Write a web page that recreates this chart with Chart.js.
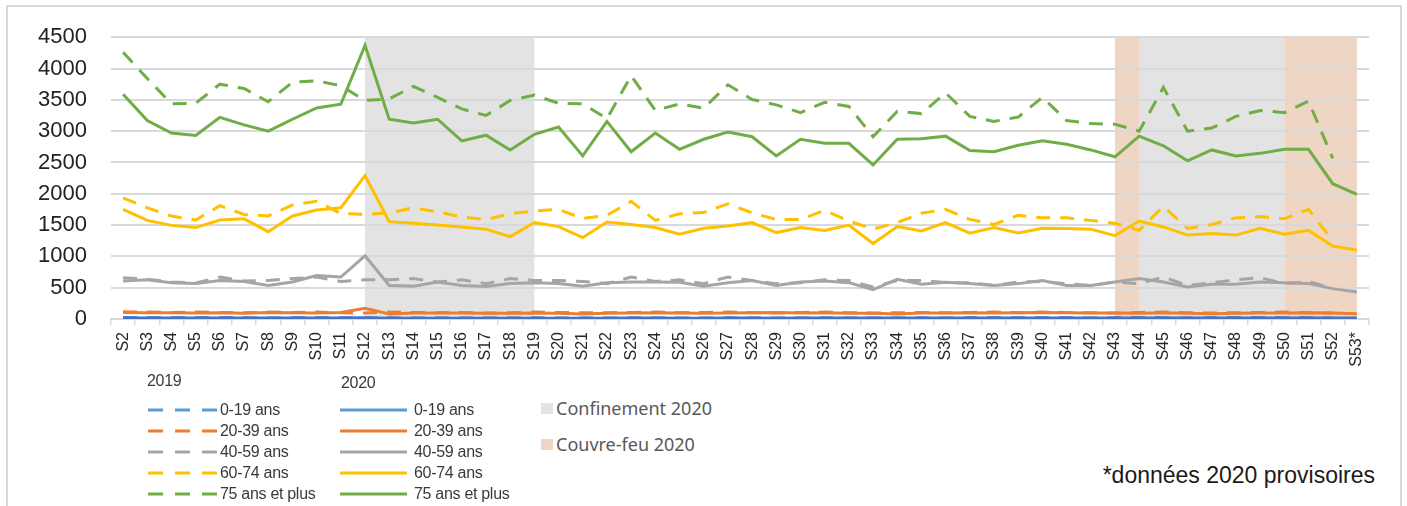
<!DOCTYPE html>
<html lang="fr">
<head>
<meta charset="utf-8">
<title>Décès hebdomadaires par âge 2019 / 2020</title>
<script src="https://cdn.jsdelivr.net/npm/chart.js@4/dist/chart.umd.min.js"></script>
<style>
    html, body { margin: 0; padding: 0; background: #fff; }
    body { width: 1407px; height: 506px; position: relative; overflow: hidden; font-family: 'Liberation Sans', Arial, sans-serif; }
    .frame { position: absolute; left: 6px; top: 5px; width: 1396px; height: 540px; border: 2px solid #dadada; box-sizing: border-box; }
    #chartBox { position: absolute; left: 0; top: 0; width: 1407px; height: 380px; }
    .lg { position: absolute; transform: translateY(-50%); white-space: nowrap; line-height: 1; }
    .lg-txt { font-size: 16px; color: #3a3a3a; letter-spacing: -0.3px; }
    .lg-box { position: absolute; width: 12px; height: 11px; }
    .lg-area { font-family: 'Noto Sans', sans-serif; font-size: 18px; color: #595959; }
    .note { position: absolute; right: 32px; top: 475px; transform: translateY(-50%); font-size: 23px; color: #1a1a1a; line-height: 1; }
</style>
</head>
<body>
<div class="frame"></div>
<div id="chartBox"><canvas id="deathsChart"></canvas></div>
<div id="legend"></div>
<div class="note">*données 2020 provisoires</div>

<script>
// Semaines S2 .. S53*
const weeks = ['S2','S3','S4','S5','S6','S7','S8','S9','S10','S11','S12','S13','S14','S15','S16','S17','S18','S19','S20',
    'S21','S22','S23','S24','S25','S26','S27','S28','S29','S30','S31','S32','S33','S34','S35','S36','S37','S38','S39','S40',
    'S41','S42','S43','S44','S45','S46','S47','S48','S49','S50','S51','S52','S53*'];

const yTicks = [0, 500, 1000, 1500, 2000, 2500, 3000, 3500, 4000, 4500];

// 2020 (trait plein)
const age0_19_2020 = [18,16,15,14,16,15,14,15,16,15, 20,12,12,13,12,12,12,13,13,12, 13,14,14,13,13,14,14,13,14,15,
    15,14,14,15,15,16,15,16,17,16, 16,16,15,16,15,14,15,16,16,17, 16,15];
const age20_39_2020 = [105,100,100,95,100,90,105,100,95,105, 170,80,95,95,95,90,90,95,90,80, 90,95,100,95,90,95,100,105,95,100,
    90,90,80,95,95,100,95,100,105,100, 95,95,90,100,90,85,90,95,95,100, 95,85];
const age40_59_2020 = [605,625,580,565,615,600,535,590,695,670, 1010,535,525,590,535,520,565,580,565,525, 580,590,590,585,525,580,615,535,590,605,
    580,470,635,555,585,565,535,565,615,535, 535,590,645,590,510,555,555,590,580,565, 485,430];
const age60_74_2020 = [1750,1575,1495,1460,1580,1600,1395,1645,1740,1775, 2290,1555,1530,1500,1470,1435,1315,1540,1475,1300,
    1550,1510,1460,1355,1450,1485,1540,1380,1460,1415, 1500,1205,1475,1405,1540,1370,1460,1375,1450,1445,
    1435,1330,1565,1470,1340,1365,1340,1450,1355,1415, 1165,1100];
const age75_2020 = [3590,3170,2970,2930,3220,3100,3000,3190,3370,3430, 4370,3190,3130,3190,2845,2935,2700,2950,3065,2605,
    3155,2670,2970,2710,2870,2985,2910,2605,2870,2805, 2805,2460,2870,2880,2920,2690,2670,2775,2845,2790,
    2700,2590,2920,2765,2525,2700,2605,2645,2710,2710, 2160,1990];

// 2019 (tirets) - pas de S53
const age0_19_2019 = [20,19,18,18,19,18,17,18,19,18, 17,18,17,16,17,16,17,18,17,16, 17,18,17,16,17,18,17,16,17,18,
    17,16,17,18,17,18,19,18,19,18, 17,18,19,18,17,18,19,18,19,18, 17,null];
const age20_39_2019 = [115,110,105,110,105,100,110,105,110,100, 95,110,105,100,105,95,100,110,105,100, 100,105,110,100,105,110,100,95,105,110,
    100,95,100,105,100,105,110,100,110,105, 100,95,105,110,100,95,100,105,110,100, 95,null];
const age40_59_2019 = [660,635,590,575,670,605,615,645,670,600, 625,625,645,590,625,565,645,615,615,600, 565,670,600,625,565,670,615,565,580,625,
    615,510,615,615,580,580,535,590,600,565, 535,590,565,670,535,580,625,660,565,600, 485,null];
const age60_74_2019 = [1935,1775,1645,1580,1810,1670,1645,1820,1880,1685, 1670,1695,1775,1710,1630,1590,1680,1725,1750,1605,
    1655,1880,1575,1680,1700,1840,1695,1590,1590,1735, 1565,1435,1540,1690,1750,1590,1510,1655,1615,1615,
    1575,1530,1415,1800,1445,1510,1615,1635,1600,1750, 1250,null];
const age75_2019 = [4260,3840,3435,3445,3750,3680,3470,3780,3805,3725, 3490,3515,3715,3540,3355,3250,3490,3575,3445,3435,
    3200,3885,3330,3435,3365,3740,3505,3420,3295,3460, 3395,2910,3315,3280,3610,3235,3155,3225,3540,3170,
    3120,3110,3000,3700,3000,3050,3235,3330,3295,3480, 2565,null];

// Périodes (de semaine à semaine)
const confinement = [['S12', 'S19'], ['S44', 'S50']];
const couvreFeu = [['S43', 'S44'], ['S50', 'S53*']];

const ageLabels = ['0-19 ans', '20-39 ans', '40-59 ans', '60-74 ans', '75 ans et plus'];
const lineColors = ['#4472c4', '#ed7d31', '#a5a5a5', '#ffc000', '#70ad47'];
const legendColors = ['#5b9bd5', '#ed7d31', '#a5a5a5', '#ffc000', '#70ad47'];
const GREY_AREA = '#e3e3e3';
const PEACH_AREA = '#efd5c3';

const series2020 = [age0_19_2020, age20_39_2020, age40_59_2020, age60_74_2020, age75_2020];
const series2019 = [age0_19_2019, age20_39_2019, age40_59_2019, age60_74_2019, age75_2019];

const datasets = [];
series2020.forEach((data, i) => {
    datasets.push({
        label: '2020 ' + ageLabels[i],
        data: data,
        borderColor: lineColors[i],
        borderWidth: 3,
        pointRadius: 0,
        tension: 0,
        fill: false
    });
});
series2019.forEach((data, i) => {
    datasets.push({
        label: '2019 ' + ageLabels[i],
        data: data,
        borderColor: lineColors[i],
        borderWidth: 3,
        borderDash: [14, 10],
        pointRadius: 0,
        tension: 0,
        fill: false
    });
});

// shaded periods, drawn under the grid
const periodShading = {
    id: 'periodShading',
    beforeDraw(chart) {
        const { ctx, chartArea, scales } = chart;
        const paint = (ranges, color) => {
            ranges.forEach(r => {
                const x0 = scales.x.getPixelForValue(weeks.indexOf(r[0]));
                const x1 = scales.x.getPixelForValue(weeks.indexOf(r[1]));
                ctx.fillStyle = color;
                ctx.fillRect(x0, chartArea.top, x1 - x0, chartArea.bottom - chartArea.top);
            });
        };
        ctx.save();
        paint(confinement, GREY_AREA);
        paint(couvreFeu, PEACH_AREA);
        ctx.restore();
    }
};

Chart.defaults.font.family = "'Liberation Sans', Arial, sans-serif";

const ctx = document.getElementById('deathsChart').getContext('2d');
const deathsChart = new Chart(ctx, {
    type: 'line',
    data: { labels: weeks, datasets: datasets },
    options: {
        responsive: true,
        maintainAspectRatio: false,
        animation: false,
        layout: { padding: { left: 38, right: 38, top: 34, bottom: 6 } },
        plugins: {
            legend: { display: false },
            tooltip: { enabled: false }
        },
        scales: {
            x: {
                offset: true,
                grid: {
                    offset: true,
                    drawOnChartArea: false,
                    drawTicks: true,
                    tickLength: 6,
                    color: '#d9d9d9',
                    lineWidth: 1.5
                },
                border: { display: true, color: '#d9d9d9', width: 2 },
                ticks: {
                    autoSkip: false,
                    maxRotation: 90,
                    minRotation: 90,
                    padding: 7,
                    color: '#262626',
                    font: { size: 16 }
                },
                afterFit(scale) { scale.height = 55; }
            },
            y: {
                min: 0,
                max: 4500,
                grid: { color: '#d9d9d9', lineWidth: 2, drawTicks: false },
                border: { display: false },
                afterBuildTicks(scale) { scale.ticks = yTicks.map(v => ({ value: v })); },
                ticks: {
                    padding: 24,
                    color: '#222',
                    font: { size: 22 },
                    callback: (value) => String(value)
                },
                afterFit(scale) { scale.width = 73; }
            }
        }
    },
    plugins: [periodShading]
});

// Legend (2019 dashed / 2020 solid / periods)
const legend = document.getElementById('legend');
const rowY = [410, 431, 452, 473, 494];

function addText(x, y, text, cls) {
    const el = document.createElement('div');
    el.className = 'lg ' + cls;
    el.style.left = x + 'px';
    el.style.top = y + 'px';
    el.textContent = text;
    legend.appendChild(el);
}

function addSample(x, y, w, color, dashed) {
    const ns = 'http://www.w3.org/2000/svg';
    const svg = document.createElementNS(ns, 'svg');
    svg.setAttribute('width', w);
    svg.setAttribute('height', 6);
    svg.style.position = 'absolute';
    svg.style.left = x + 'px';
    svg.style.top = (y - 3) + 'px';
    const line = document.createElementNS(ns, 'line');
    line.setAttribute('x1', 0);
    line.setAttribute('x2', w);
    line.setAttribute('y1', 3);
    line.setAttribute('y2', 3);
    line.setAttribute('stroke', color);
    line.setAttribute('stroke-width', 3);
    if (dashed) line.setAttribute('stroke-dasharray', '15 12');
    svg.appendChild(line);
    legend.appendChild(svg);
}

addText(147, 381, '2019', 'lg-txt');
addText(341, 383, '2020', 'lg-txt');
ageLabels.forEach((label, i) => {
    addSample(148, rowY[i], 69, legendColors[i], true);
    addText(220, rowY[i], label, 'lg-txt');
    addSample(340, rowY[i], 67, legendColors[i], false);
    addText(414, rowY[i], label, 'lg-txt');
});

[['Confinement 2020', GREY_AREA, 408], ['Couvre-feu 2020', PEACH_AREA, 444]].forEach(([label, color, y]) => {
    const box = document.createElement('div');
    box.className = 'lg-box';
    box.style.left = '541px';
    box.style.top = (y - 5) + 'px';
    box.style.background = color;
    legend.appendChild(box);
    addText(556, y, label, 'lg-area');
});
</script>
</body>
</html>
